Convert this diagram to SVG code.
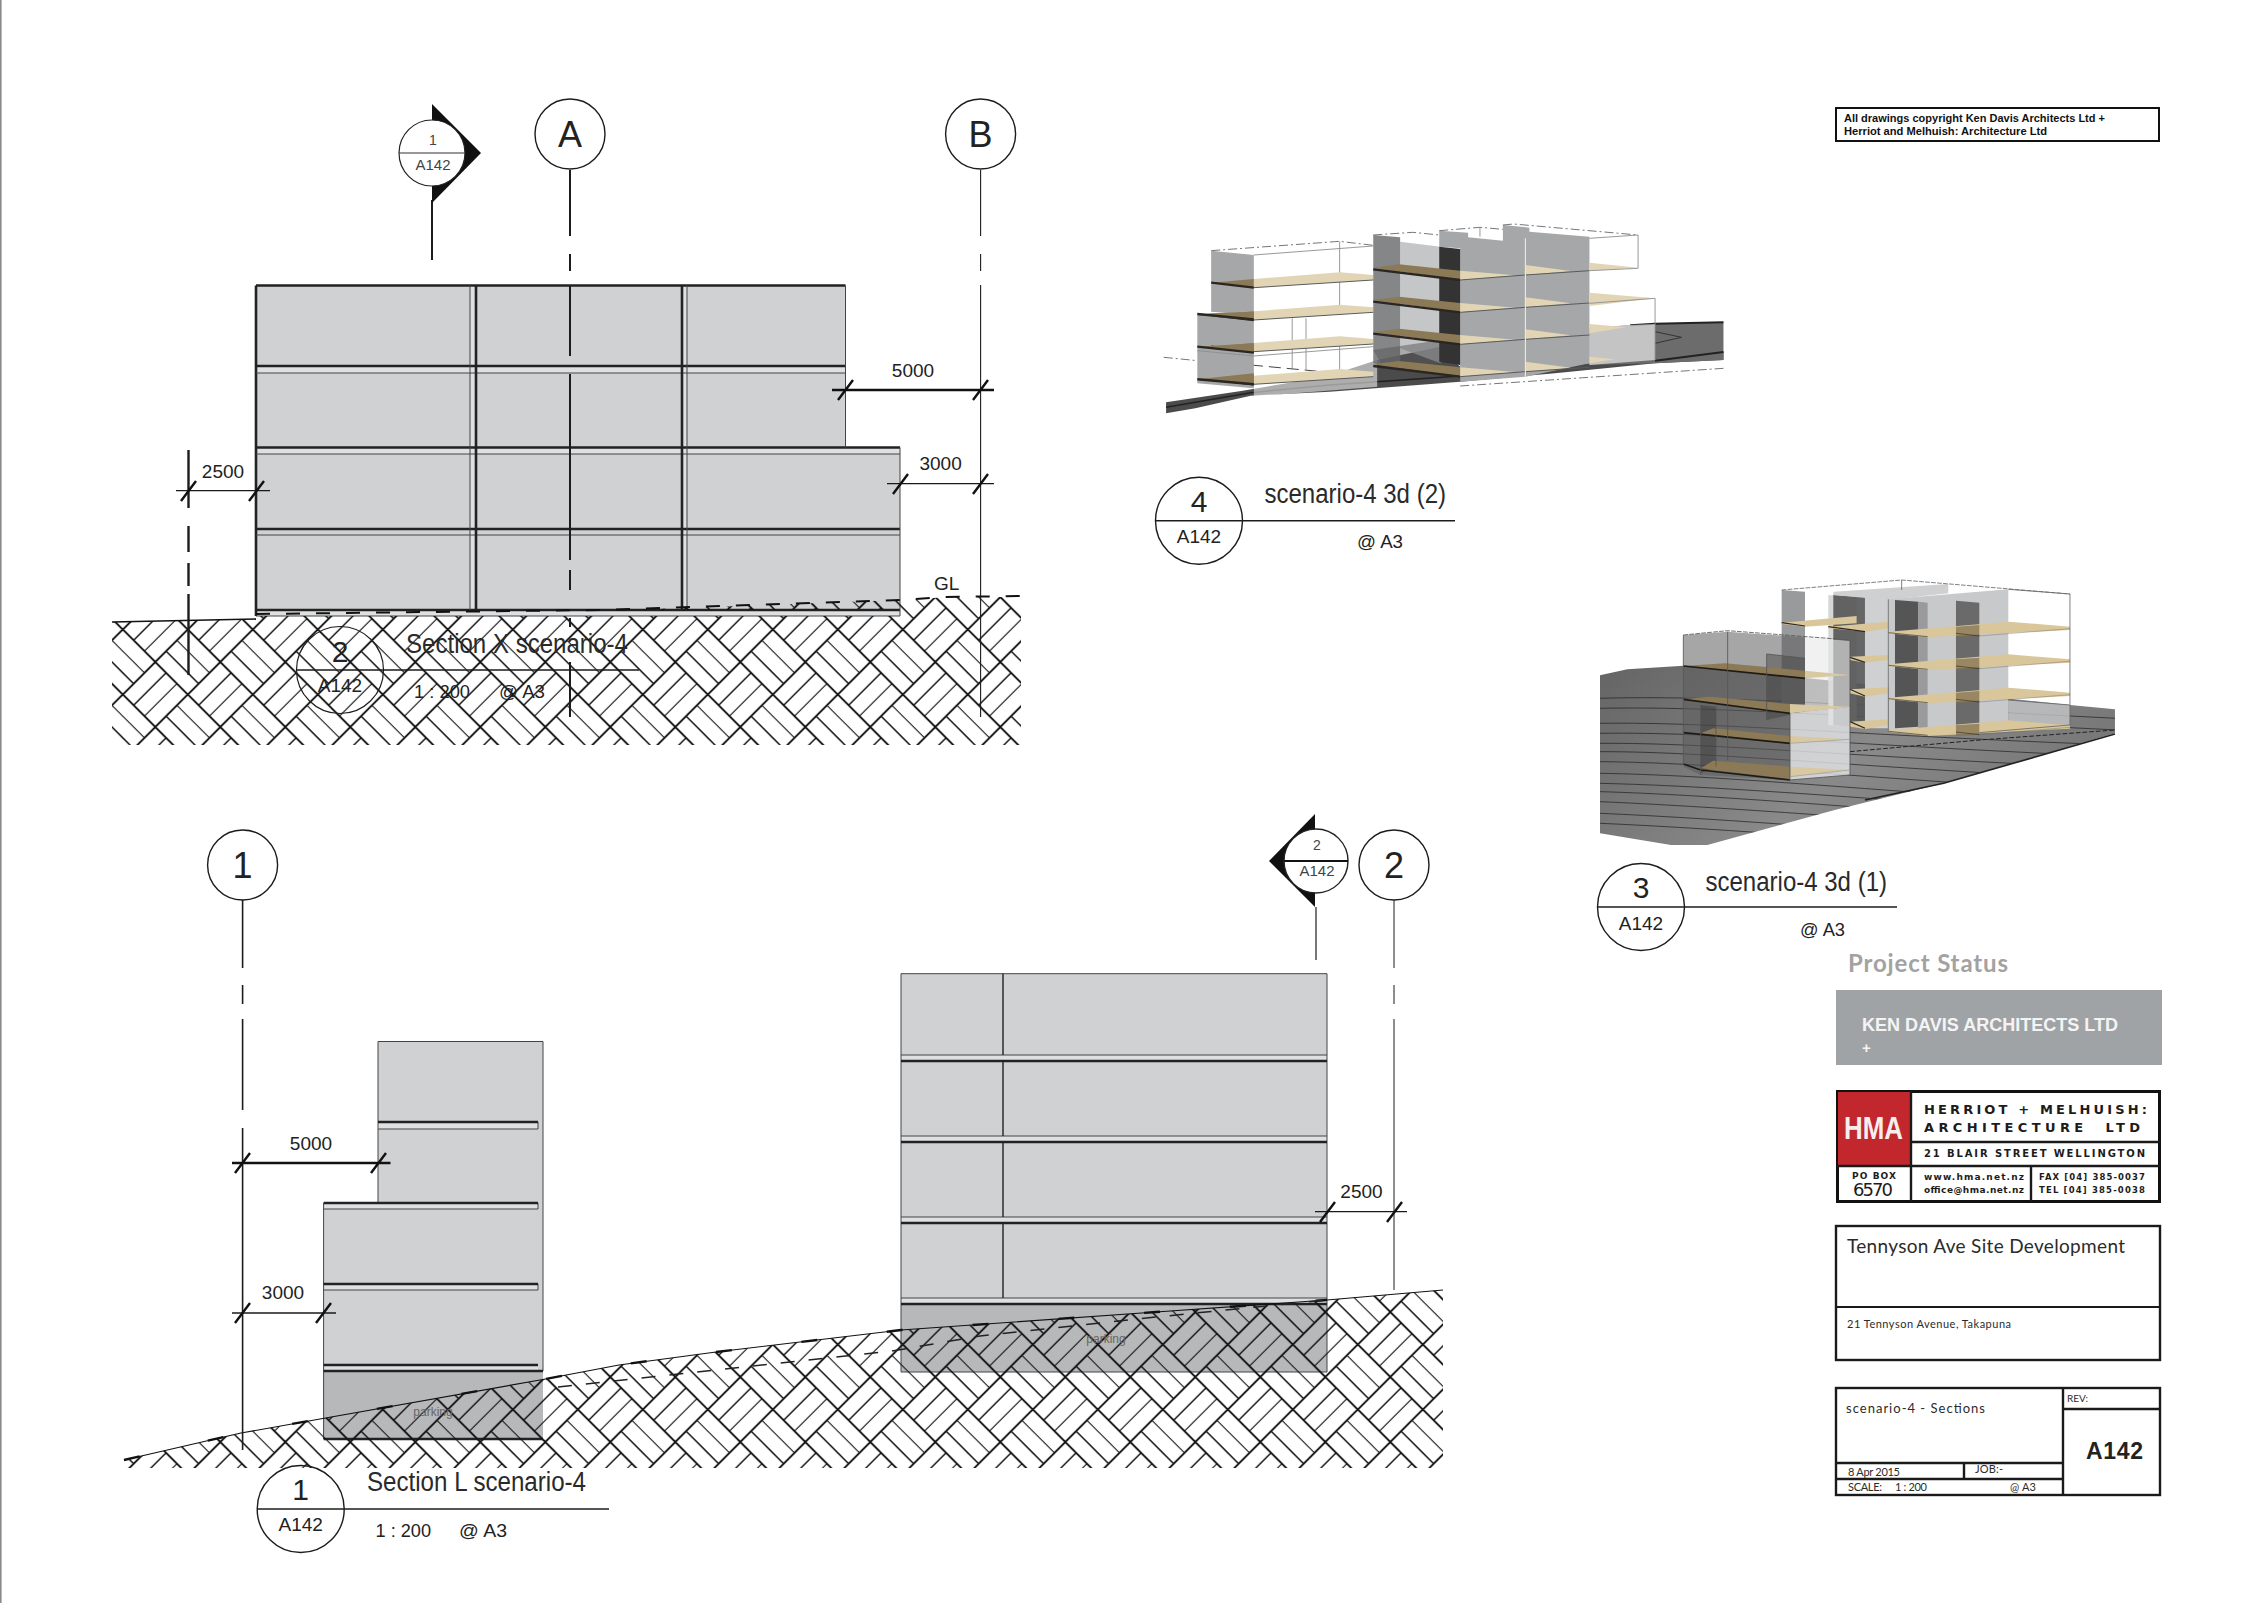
<svg xmlns="http://www.w3.org/2000/svg" width="2267" height="1603" viewBox="0 0 2267 1603">
<style>
text{font-family:"Liberation Sans",Arial,sans-serif;fill:#222}
.g{fill:none;stroke:#1c1c1c}
.f{fill:#cfd1d3}
.bd{fill:#dfe0e2}
.fl{fill:none;stroke:#222;stroke-width:2.6}
.fn{fill:none;stroke:#444;stroke-width:1}
.d{fill:none;stroke:#1a1a1a;stroke-width:1.3}
.tk{fill:none;stroke:#111;stroke-width:2.4}
.dm{font-size:19px;text-anchor:middle}
.lb{fill:none;stroke:#1c1c1c;stroke-width:1.4}
.ti{font-size:27px;fill:#2a2a2a}
.sm{font-size:19px}
.tb{fill:none;stroke:#1a1a1a;stroke-width:2.4}
.tl{fill:none;stroke:#1a1a1a;stroke-width:2}
.go{font-family:Lato,"Open Sans",sans-serif;fill:#2b2b2b}
.hm{font-family:"DejaVu Sans",sans-serif;font-weight:bold;fill:#1c1c1c}
.sc polygon,.sc polyline,.sc line,.sc path{vector-effect:non-scaling-stroke}
.wire{fill:none;stroke:#8d8d8d;stroke-width:.9}
.wd{fill:none;stroke:#666;stroke-width:.9;stroke-dasharray:9 3 2 3}
.gf{fill:#a5a7a9}
.br{fill:#8b7a55}
.be{fill:#e2d5b5}
.dk{fill:none;stroke:#2a2622;stroke-width:2.4}
.tn{fill:none;stroke:#5a5a5a;stroke-width:1}
</style>
<defs>
<pattern id="h" width="65" height="65" patternUnits="userSpaceOnUse" x="187.8" y="662">
<g fill="none" stroke="#141414" stroke-width="1.5">
<path d="M32.5,0L65,32.5L32.5,65L0,32.5Z" stroke-width="1.9"/>
<path d="M10.83,43.33L43.33,10.83"/>
<path d="M21.67,54.17L54.17,21.67" stroke-width="1.1"/>
<path d="M-10.83,-21.67L21.67,10.83M54.17,-21.67L86.67,10.83M-10.83,43.33L21.67,75.83M54.17,43.33L86.67,75.83" stroke-width="1.1"/>
<path d="M-21.67,-10.83L10.83,21.67M43.33,-10.83L75.83,21.67M-21.67,54.17L10.83,86.67M43.33,54.17L75.83,86.67"/>
</g>
</pattern>
<clipPath id="gc3"><polygon points="-240,286 -158,268 11,257 1170,375 1305,388 1305,460 791,610 464,690 82,795 -27,795 -240,760"/></clipPath>
<linearGradient id="gg" x1="0" y1="0" x2="1" y2="0.4"><stop offset="0" stop-color="#646464"/><stop offset=".6" stop-color="#8a8a8a"/><stop offset="1" stop-color="#777"/></linearGradient>
<g id="f4l" class="sc">
<polygon class="br" points="180,248 288,237 288,263"/>
<polygon class="be" points="288,237 506,217 590,225 590,240 288,263"/>
<polyline class="dk" points="180,248 288,263"/>
<polyline class="tn" points="288,263 590,240"/>
</g>
<g id="f4m" class="sc">
<polygon class="br" points="590,203 655,193 810,212 810,240"/>
<polyline class="dk" points="590,208 810,240"/>
<polygon class="be" points="810,212 950,226 810,240"/>
<polygon class="be" points="975,195 1090,213 975,225"/>
<polyline class="tn" points="810,240 975,225 1137,212"/>
</g>
<g id="f3r">
<polygon fill="#d9c69a" points="625,155 985,125 1170,140 1170,150 743,172 625,160"/>
<polygon fill="#7d6c4c" fill-opacity=".7" points="828,140 898,135 898,168 828,172"/>
<polyline fill="none" stroke="#2a2622" stroke-width="1.8" points="625,158 743,170"/>
<polyline fill="none" stroke="#2a2622" stroke-width="1.8" points="828,160 898,168"/>
<polyline fill="none" stroke="#555" stroke-width="1" points="898,168 1170,146"/>
</g>
</defs>

<line x1=".8" y1="0" x2=".8" y2="1603" stroke="#8a8a8a" stroke-width="1.6"/>

<g id="section-x">
<polygon class="f" points="256,285.5 845.5,285.5 845.5,447.5 900,447.5 900,616 256,616"/>
<path class="bd" d="M256,366H845.5V373H256ZM256,447.5H900V454H256ZM256,610H900V616H256ZM470,285.5H476V610H470ZM682,285.5H687V610H682Z"/>
<path class="fl" d="M256,285.5H845.500M256,285.5V616M256,366H845.5M256,447.5H900M256,529H900M256,610H900"/>
<path class="fn" d="M256,373H845.5M256,454H900M256,535H900M256,616H900M900,447.5V616M470,285.5V610M687,285.5V610M845.5,285.5V447.5"/>
<path class="fl" d="M476,285.5V610M682,285.5V610"/>
<polygon fill="url(#h)" points="112,622 256,619 256,616 900,616 900,601 945,597 1021,597 1021,745 112,745"/>
<polygon fill="url(#h)" points="600,611 900,600 900,609 600,611"/>
<path fill="none" stroke="#111" stroke-width="1.6" d="M112,622L256,619"/>
<path fill="none" stroke="#111" stroke-width="2" stroke-dasharray="14 16" d="M256,614L600,610L900,600L945,597L1021,596"/>
</g>

<g id="section-l">
<polygon class="f" points="378,1041.5 543,1041.5 543,1371 323.6,1371 323.6,1203 378,1203"/>
<polygon fill="#b6b8ba" points="323.6,1371 543,1371 543,1439 323.6,1439"/>
<path class="bd" d="M378,1122H538V1129H378ZM323.6,1203H538V1209H323.6ZM323.6,1284H538V1290H323.6ZM323.6,1365H538V1371H323.6Z"/>
<path class="fn" d="M378,1041.5H543V1371M378,1041.5V1203M323.6,1203V1439M378,1129H538M323.6,1209H538M323.6,1290H538M323.6,1371H543M538,1122V1129M538,1203V1209M538,1284V1290"/>
<path class="fl" d="M378,1122H538M323.6,1203H538M323.6,1284H538M323.6,1365H538M323.6,1371H543M323.6,1439H543"/>
<polygon class="f" points="901,973.7 1327,973.7 1327,1304 901,1304"/>
<polygon fill="#b6b8ba" points="901,1304 1327,1304 1327,1372 901,1372"/>
<path class="bd" d="M901,1055H1327V1061H901ZM901,1136H1327V1142H901ZM901,1217H1327V1223H901ZM901,1298H1327V1304H901Z"/>
<path class="fn" d="M901,973.7H1327V1372H901ZM901,1055H1327M901,1136H1327M901,1217H1327M901,1298H1327"/>
<path class="fl" d="M901,1061H1327M901,1142H1327M901,1223H1327M901,1304H1327"/>
<path fill="none" stroke="#222" stroke-width="1.4" d="M1003,973.7V1055M1003,1061V1136M1003,1142V1217M1003,1223V1298"/>
<polygon fill="url(#h)" points="124,1460 241,1433 320,1419 540,1380 619,1365 716,1352 901,1330 1156,1312 1327,1300 1443,1290 1443,1468 124,1468"/>
<polyline fill="none" stroke="#111" stroke-width="1.1" points="124,1460 241,1433 320,1419 540,1380 619,1365 716,1352 901,1330 1156,1312 1327,1300 1443,1290"/>
<polyline fill="none" stroke="#111" stroke-width="2.4" stroke-dasharray="16 70" points="124,1460 241,1433 320,1419 540,1380 619,1365 716,1352 901,1330 1156,1312 1327,1300"/>
<polyline fill="none" stroke="#222" stroke-width="1.5" stroke-dasharray="14 14" points="558,1387 716,1370 892,1351 980,1336 1156,1317 1327,1300"/>
<text x="433" y="1416" font-size="12" text-anchor="middle" style="fill:#666">parking</text>
<text x="1106" y="1343" font-size="12" text-anchor="middle" style="fill:#666">parking</text>
</g>

<g id="connectors">
<path class="g" stroke-width="2" d="M432,200V260M570,170V236M570,254V271M570,285.5V356M570,374V560M570,570V590M570,618V627M570,662V717"/>
<path class="g" stroke-width="1.1" d="M980.6,170V236M980.6,254V271M980.6,285V717"/>
<path class="g" stroke-width="2.4" d="M188.5,450V508M188.5,526V552M188.5,563V586M188.5,594V675"/>
<path class="g" stroke-width="1.6" d="M242.6,900V968M242.6,985V1004M242.6,1019V1110M242.6,1128V1450"/>
<path class="g" stroke-width="1" d="M1394,900V968M1394,985V1004M1394,1019V1290"/>
<path class="g" stroke-width="1.2" d="M1316,907V960"/>
</g>

<g id="dimensions">
<path class="tk" d="M832,390H994M838,400L853,380M973,400L988,380"/>
<text class="dm" x="913" y="377">5000</text>
<path class="d" d="M887,483.6H994"/><path class="tk" d="M893,494L908,474M973,494L988,474"/>
<text class="dm" x="940.6" y="469.5">3000</text>
<path class="d" d="M176,490.6H270"/><path class="tk" d="M181,501L196,481M249,501L264,481"/>
<text class="dm" x="223" y="477.5">2500</text>
<text class="dm" x="946.7" y="590">GL</text>
<path class="tk" d="M232,1163H390.500M235,1173L250,1153M371,1173L386,1153"/>
<text class="dm" x="311" y="1149.600">5000</text>
<path class="d" d="M232,1313H336"/><path class="tk" d="M235,1323L250,1303M316,1323L331,1303"/>
<text class="dm" x="283" y="1299">3000</text>
<path class="d" d="M1315,1211.700H1407"/><path class="tk" d="M1320,1222L1335,1202M1387,1222L1402,1202"/>
<text class="dm" x="1361.500" y="1198">2500</text>
</g>

<g id="grid-A"><circle class="lb" cx="570" cy="134" r="35"/><text x="570" y="147" font-size="36" text-anchor="middle">A</text></g>
<g id="grid-B"><circle class="lb" cx="980.600" cy="134" r="35"/><text x="980.600" y="147" font-size="36" text-anchor="middle">B</text></g>
<g id="grid-1"><circle class="lb" cx="242.600" cy="865" r="35"/><text x="242.600" y="878" font-size="36" text-anchor="middle">1</text></g>
<g id="grid-2"><circle class="lb" cx="1394" cy="865" r="35"/><text x="1394" y="878" font-size="36" text-anchor="middle">2</text></g>

<g id="section-mark-1">
<polygon fill="#111" points="432,104 481,153 432,203"/>
<circle cx="432" cy="153" r="33" fill="#fff" stroke="#222" stroke-width="1.2"/>
<path d="M399,153H465" stroke="#333" stroke-width="1"/>
<text x="433" y="145" font-size="14" text-anchor="middle" style="fill:#444">1</text>
<text x="433" y="170" font-size="15" text-anchor="middle" style="fill:#444">A142</text>
</g>
<g id="section-mark-2">
<polygon fill="#111" points="1315,814 1269,861 1315,907"/>
<circle cx="1316" cy="861" r="32" fill="#fff" stroke="#222" stroke-width="1.4"/>
<path d="M1284,861H1348" stroke="#111" stroke-width="2"/>
<text x="1317" y="850" font-size="14" text-anchor="middle" style="fill:#444">2</text>
<text x="1317" y="876" font-size="15" text-anchor="middle" style="fill:#444">A142</text>
</g>

<g id="title-2">
<circle class="lb" cx="340" cy="670" r="43.500" style="stroke-width:1.200"/>
<path class="d" d="M297,670H639"/>
<text x="340" y="662" font-size="30" text-anchor="middle">2</text>
<text x="340" y="692" font-size="19" text-anchor="middle">A142</text>
<text class="ti" x="406" y="653" textLength="222" lengthAdjust="spacingAndGlyphs">Section X scenario-4</text>
<text class="sm" x="414" y="698" textLength="56" lengthAdjust="spacingAndGlyphs">1 : 200</text>
<text class="sm" x="499" y="698" textLength="46" lengthAdjust="spacingAndGlyphs">@ A3</text>
</g>
<g id="title-1">
<circle class="lb" cx="300.700" cy="1509" r="43.500"/>
<path class="lb" d="M257,1509H609"/>
<text x="300.700" y="1500" font-size="30" text-anchor="middle">1</text>
<text x="300.700" y="1531" font-size="19" text-anchor="middle">A142</text>
<text class="ti" x="367" y="1491" textLength="219" lengthAdjust="spacingAndGlyphs">Section L scenario-4</text>
<text class="sm" x="375.500" y="1537" textLength="55.500" lengthAdjust="spacingAndGlyphs">1 : 200</text>
<text class="sm" x="459" y="1537" textLength="48" lengthAdjust="spacingAndGlyphs">@ A3</text>
</g>

<g id="scene-4" class="sc" transform="translate(1140,200) scale(.3953,.3333)">
<polygon fill="#4b4b4b" points="66,607 260,572 470,530 600,480 760,440 810,500 1137,490 1303,470 1476,455 1476,480 1303,490 1050,520 810,545 480,575 280,587 140,625 66,640"/>
<polyline fill="none" stroke="#222" stroke-width="1.5" points="66,622 280,578 480,555 810,528"/>
<polygon fill="#6c6c6c" points="1137,385 1240,375 1303,372 1476,367 1476,480 1303,490 1137,495"/>
<polyline fill="none" stroke="#222" stroke-width="2" points="1240,376 1303,371 1476,367"/>
<polyline fill="none" stroke="#222" stroke-width="2" points="1303,482 1476,456"/>
<polyline fill="none" stroke="#333" stroke-width="1" points="1303,395 1370,412 1303,430"/>
<polygon fill="#fff" fill-opacity=".6" points="1137,385 1240,375 1303,372 1303,480 1137,495"/>
<polygon fill="#fff" fill-opacity=".55" points="288,565 460,515 600,470 600,560 288,590"/>
<polyline class="wd" points="60,472 145,482"/>
<polyline fill="none" stroke="#444" stroke-dasharray="12 6" points="190,485 460,515"/>
<polyline class="wd" points="810,558 1476,505"/>
<polyline class="wd" points="180,152 505,124 590,136"/>
<polyline class="wire" points="288,165 590,138"/>
<path class="wire" d="M505,124V345M420,355V510M385,355V510M505,430V515"/>
<polygon class="gf" points="180,152 288,165 288,345 180,335"/>
<polygon class="gf" points="145,340 288,355 288,565 145,550"/>
<use href="#f4l"/><use href="#f4l" y="97"/><use href="#f4l" y="192"/><use href="#f4l" y="290"/>
<polygon class="br" points="145,345 180,340 288,335 288,360"/>
<polyline class="dk" points="145,342 288,358"/>
<polygon class="br" points="145,440 288,430 288,460"/>
<polyline class="dk" points="145,440 288,458"/>
<polyline class="wire" points="145,452 288,468 590,440"/>
<polygon class="br" points="145,538 288,520 288,552"/>
<polyline class="dk" points="145,538 288,553"/>
<polygon fill="#b7b8ba" fill-opacity=".8" points="658,125 760,140 760,490 658,445"/>
<polygon fill="#6f7173" fill-opacity=".85" points="590,105 658,112 658,510 590,490"/>
<polygon fill="#555" fill-opacity=".5" points="590,450 760,420 760,490 620,510"/>
<polyline class="wd" points="590,105 690,97 757,105"/>
<polygon class="gf" points="757,92 830,98 830,112 918,122 918,75 985,83 985,95 1137,110 1137,490 975,530 810,545 810,145 757,140"/>
<polygon fill="#333" points="757,140 810,147 810,495 757,485"/>
<use href="#f4m"/><use href="#f4m" y="97"/><use href="#f4m" y="193"/><use href="#f4m" y="290"/>
<polygon class="be" points="1137,188 1260,203 1137,212"/>
<polygon class="be" points="1137,278 1303,295 1137,318"/>
<polygon class="be" points="1137,372 1230,382 1137,400"/>
<polygon class="be" points="1137,470 1200,478 1137,490"/>
<path fill="none" stroke="#e6e6e6" stroke-width="1.2" d="M975,115V530"/>
<polyline class="wd" points="757,92 860,82 918,88"/>
<polyline class="wd" points="918,75 945,72 1260,105"/>
<polyline class="wire" points="1137,115 1260,105 1260,205 1137,212"/>
<polyline class="wire" points="1137,310 1303,295 1303,480"/>
<path class="wire" d="M860,82V110"/>
</g>
<g id="title-4">
<circle class="lb" cx="1199" cy="520.700" r="43.500"/>
<path class="lb" d="M1156,520.700H1455"/>
<text x="1199" y="512" font-size="30" text-anchor="middle">4</text>
<text x="1199" y="543" font-size="19" text-anchor="middle">A142</text>
<text class="ti" x="1264.500" y="503" textLength="181.500" lengthAdjust="spacingAndGlyphs">scenario-4 3d (2)</text>
<text class="sm" x="1357" y="548" textLength="46" lengthAdjust="spacingAndGlyphs">@ A3</text>
</g>

<g id="scene-3" transform="translate(1680,580) scale(.3333)">
<polygon fill="url(#gg)" points="-240,286 -158,268 11,257 1170,375 1305,388 1305,460 791,610 464,690 82,795 -27,795 -240,760"/>
<path clip-path="url(#gc3)" fill="none" stroke="#242424" stroke-width="2.200" d="M-240,355C100,345 500,375 1310,415M-240,385C100,378 500,410 1310,450M-240,430C100,425 500,465 1310,495M-240,460C100,455 500,495 1310,530M-240,490C100,488 500,530 1310,565M-240,515C100,515 500,560 1310,600M-240,545C100,548 500,590 1310,640M-240,580C100,585 500,625 1310,680M-240,610C100,618 500,650 1310,710M-240,635C100,645 500,680 1310,740M-240,665C100,680 500,710 1310,770M-240,700C100,715 500,745 1310,810M-240,730C100,745 500,775 1310,840"/>
<polyline fill="none" stroke="#222" stroke-width="5" points="1305,462 791,610 555,660"/>
<polyline fill="none" stroke="#222" stroke-width="3" stroke-dasharray="14 6" points="510,515 900,480 1305,450"/>
<polygon fill="#8e8f90" fill-opacity=".9" points="305,30 375,35 375,395 305,385"/>
<polygon fill="#d0d1d3" fill-opacity=".9" points="445,45 530,50 530,440 445,435"/>
<polygon fill="#555" fill-opacity=".9" points="460,45 555,52 555,445 460,435"/>
<polygon fill="#cfd0d2" points="555,50 625,55 625,445 555,445"/>
<polygon fill="#cfd0d2" points="460,35 805,12 805,40 625,60 460,45"/>
<polygon fill="#c8c9cb" points="625,58 985,28 985,430 625,455"/>
<polygon fill="#555" points="645,60 715,65 715,440 645,445"/>
<polygon fill="#9a9a9c" points="715,65 743,68 743,465 715,445"/>
<polygon fill="#6a6a6a" points="828,62 898,68 898,455 828,450"/>
<polygon fill="#c4c5c8" fill-opacity=".8" points="985,360 1170,375 1170,435 985,445"/>
<polygon fill="#d9c69a" points="305,128 530,108 530,130 375,140 305,132"/>
<polygon fill="#d9c69a" points="445,140 625,125 625,145 560,155 445,145"/>
<polygon fill="#d9c69a" points="510,230 625,225 625,240 555,248 510,240"/>
<polygon fill="#d9c69a" points="510,328 625,322 625,340 555,350 510,340"/>
<polygon fill="#d9c69a" points="510,425 625,418 625,435 555,447 510,440"/>
<path fill="none" stroke="#2a2622" stroke-width="3.600" d="M305,128L375,138M445,140L555,155M510,232L555,247M510,328L555,348M510,425L555,445"/>
<use href="#f3r"/><use href="#f3r" y="98"/><use href="#f3r" y="198"/><use href="#f3r" y="296"/>
<polyline fill="none" stroke="#666" stroke-width="2.500" stroke-dasharray="14 4" points="305,30 665,0 1170,42"/>
<path fill="none" stroke="#666" stroke-width="2.500" d="M985,28L1170,42V435L898,458M625,58V455M665,0V30M985,360L1170,375"/>
<polygon fill="#5c5d5f" fill-opacity=".55" points="10,165 143,155 375,172 375,395 330,400 330,600 62,585 10,560"/>
<polygon fill="#3f3f3f" fill-opacity=".45" points="260,222 375,235 375,395 260,420"/>
<polygon fill="#e8e8e8" fill-opacity=".6" points="375,172 510,183 510,380 375,395"/>
<polygon fill="#e4e5e6" fill-opacity=".8" points="330,400 510,380 510,585 330,600"/>
<polygon fill="#333" fill-opacity=".4" points="62,375 108,380 108,560 62,580"/>
<polygon fill="#8b7a55" points="10,258 135,250 375,272 375,295"/>
<polygon fill="#d9c9a2" points="375,272 510,285 375,295"/>
<polygon fill="#8b7a55" points="10,358 90,350 330,372 330,400"/>
<polygon fill="#d9c9a2" points="330,372 510,380 330,400"/>
<polygon fill="#8b7a55" points="62,460 100,445 330,468 330,490"/>
<polygon fill="#d9c9a2" points="330,468 510,478 330,490"/>
<polygon fill="#8b7a55" points="62,565 100,542 330,560 330,597"/>
<polygon fill="#d9c9a2" points="330,560 510,570 330,590"/>
<path fill="none" stroke="#1e1a16" stroke-width="5" d="M10,258L375,295M10,358L330,400M10,458L330,490M10,552L62,570L330,600"/>
<path fill="none" stroke="#555" stroke-width="2.500" d="M10,165V555M143,155V540M62,375V585M108,380V560M330,400V600M510,183V585L330,600M260,222V420M260,222L375,235"/>
<polyline fill="none" stroke="#555" stroke-width="2.500" stroke-dasharray="14 4" points="10,165 143,152 510,180"/>
<path fill="none" stroke="#999" stroke-width="2" d="M330,490L510,478M330,590L510,570"/>
</g>
<g id="title-3">
<circle class="lb" cx="1641" cy="907" r="43.500"/>
<path class="lb" d="M1597.500,907H1897"/>
<text x="1641" y="898" font-size="30" text-anchor="middle">3</text>
<text x="1641" y="930" font-size="19" text-anchor="middle">A142</text>
<text class="ti" x="1705.500" y="891" textLength="181.500" lengthAdjust="spacingAndGlyphs">scenario-4 3d (1)</text>
<text class="sm" x="1800" y="936" textLength="45" lengthAdjust="spacingAndGlyphs">@ A3</text>
</g>

<g id="copyright">
<rect x="1836" y="108" width="323" height="33" fill="none" stroke="#111" stroke-width="2"/>
<text x="1844" y="122" font-size="10" font-weight="bold" textLength="261" lengthAdjust="spacingAndGlyphs" style="fill:#111">All drawings copyright Ken Davis Architects Ltd +</text>
<text x="1844" y="135" font-size="10" font-weight="bold" textLength="203" lengthAdjust="spacingAndGlyphs" style="fill:#111">Herriot and Melhuish: Architecture Ltd</text>
</g>

<g id="project-status">
<text x="1848" y="972" font-size="24" font-weight="bold" textLength="160" style="font-family:Lato,sans-serif;fill:#a2a2a2">Project Status</text>
<rect x="1836" y="990" width="326" height="75" fill="#a0a3a6"/>
<text x="1862" y="1031" font-size="19" font-weight="bold" textLength="256" lengthAdjust="spacingAndGlyphs" style="fill:#f4f4f4">KEN DAVIS ARCHITECTS LTD</text>
<text x="1862" y="1053" font-size="15" font-weight="bold" style="fill:#f4f4f4">+</text>
</g>

<g id="hma-logo">
<rect x="1837.500" y="1091.500" width="322" height="110" fill="#fff" stroke="#111" stroke-width="3"/>
<rect x="1838" y="1092" width="73" height="74" fill="#c1272d"/>
<path class="tb" d="M1911,1091V1201M1911,1142H2160M1837,1166H2160M2031,1166V1201"/>
<text x="1844" y="1139" font-size="32" font-weight="bold" textLength="59" lengthAdjust="spacingAndGlyphs" style="fill:#f4eeee">HMA</text>
<text class="hm" x="1924" y="1114" font-size="13" textLength="223">HERRIOT + MELHUISH:</text>
<text class="hm" x="1924" y="1132" font-size="13" textLength="216" xml:space="preserve">ARCHITECTURE  LTD</text>
<text class="hm" x="1924" y="1157" font-size="10" textLength="221">21 BLAIR STREET WELLINGTON</text>
<text class="hm" x="1852" y="1179" font-size="9" textLength="44">PO BOX</text>
<text x="1853" y="1196" font-size="18" textLength="40" style="font-family:'DejaVu Sans',sans-serif;fill:#1c1c1c">6570</text>
<text class="hm" x="1924" y="1180" font-size="9" textLength="100">www.hma.net.nz</text>
<text class="hm" x="1924" y="1193" font-size="9" textLength="100">office@hma.net.nz</text>
<text class="hm" x="2039" y="1180" font-size="8.500" textLength="106">FAX [04] 385-0037</text>
<text class="hm" x="2039" y="1193" font-size="8.500" textLength="106">TEL [04] 385-0038</text>
</g>

<g id="project-box">
<rect class="tb" x="1836" y="1226" width="324" height="134"/>
<path class="tl" d="M1836,1307H2160"/>
<text class="go" x="1847" y="1253" font-size="19" textLength="278">Tennyson Ave Site Development</text>
<text class="go" x="1847" y="1328" font-size="11" textLength="164">21 Tennyson Avenue, Takapuna</text>
</g>

<g id="sheet-box">
<rect class="tb" x="1836" y="1388" width="324" height="107"/>
<path class="tb" d="M2063,1388V1495M2063,1409H2160M1836,1463H2063M1836,1479H2063M1964,1463V1479"/>
<text class="go" x="2067" y="1402" font-size="10" textLength="21">REV:</text>
<text class="go" x="1846" y="1413" font-size="13" textLength="139">scenario-4 - Sections</text>
<text x="2086" y="1459" font-size="23" font-weight="bold" textLength="57">A142</text>
<text class="go" x="1848" y="1476" font-size="11" textLength="52">8 Apr 2015</text>
<text class="go" x="1975" y="1473" font-size="11" textLength="28">JOB:-</text>
<text class="go" x="1848" y="1491" font-size="11" textLength="34">SCALE:</text>
<text class="go" x="1895" y="1491" font-size="11" textLength="32">1 : 200</text>
<text class="go" x="2010" y="1491" font-size="11" textLength="26">@ A3</text>
</g>
</svg>
